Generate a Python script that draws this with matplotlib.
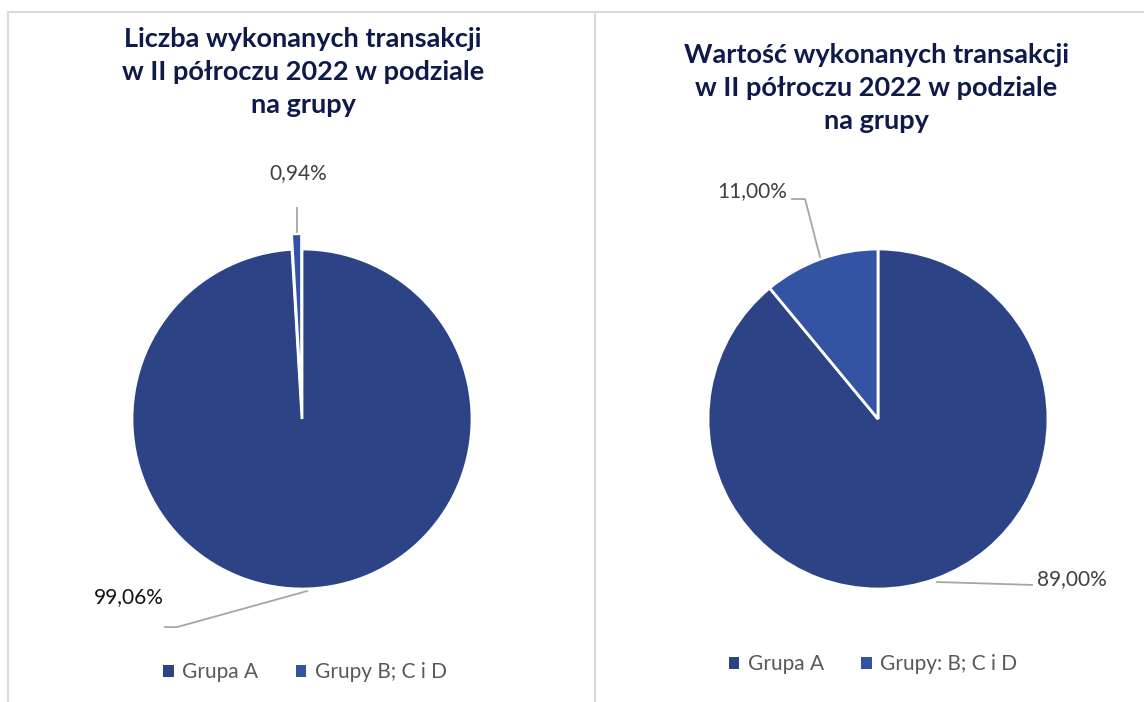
import matplotlib
matplotlib.use("Agg")
import matplotlib.pyplot as plt
from matplotlib.patches import Patch
from matplotlib.lines import Line2D

plt.rcParams['font.family'] = ['Lato', 'DejaVu Sans']

# data
groups_left = ["Grupa A", "Grupy B; C i D"]
count_share = [99.06, 0.94]
groups_right = ["Grupa A", "Grupy: B; C i D"]
value_share = [89.00, 11.00]

title_left = "Liczba wykonanych transakcji\nw II półroczu 2022 w podziale\nna grupy"
title_right = "Wartość wykonanych transakcji\nw II półroczu 2022 w podziale\nna grupy"

col_a = "#2C4386"
col_b = "#3453A2"
title_col = "#0D1A4A"
label_col = "#404040"
leader_col = "#A6A6A6"

W, H = 1144, 702
fig = plt.figure(figsize=(W / 100, H / 100), dpi=100)

# panel frames
frame = Line2D([8 / W, 8 / W, 1.0], [0, 1 - 12 / H, 1 - 12 / H], transform=fig.transFigure,
               color="#D9D9D9", lw=1.5)
fig.add_artist(frame)
fig.add_artist(Line2D([595 / W, 595 / W], [0, 1 - 12 / H], transform=fig.transFigure,
                      color="#D9D9D9", lw=1.5))

R = 170  # pie radius in px
LIM = 1.6
side = 2 * LIM * R


def pie_axes(cx, cy):
    ax = fig.add_axes([(cx - side / 2) / W, (H - cy - side / 2) / H, side / W, side / H])
    ax.set_xlim(-LIM, LIM)
    ax.set_ylim(-LIM, LIM)
    ax.set_aspect("equal")
    ax.axis("off")
    return ax


def fmt(v):
    return ("%.2f%%" % v).replace(".", ",")


# left pie
ax1 = pie_axes(302, 419)
ax1.pie(count_share, colors=[col_a, col_b], startangle=90, counterclock=False,
        explode=[0, 0.09], wedgeprops=dict(edgecolor="white", linewidth=2))
ax1.set_xlim(-LIM, LIM)
ax1.set_ylim(-LIM, LIM)
ax1.plot([-0.029, -0.029], [1.10, 1.24], color=leader_col, lw=1.3)
ax1.text(-0.024, 1.447, fmt(count_share[1]), ha="center", va="center", fontsize=15, color=label_col)
ax1.plot([0.03, -0.735, -0.806], [-1.012, -1.224, -1.224], color=leader_col, lw=1.3)
ax1.text(-1.02, -1.05, fmt(count_share[0]), ha="center", va="center", fontsize=15, color="#111111")

# right pie
ax2 = pie_axes(878, 419)
ax2.pie(value_share, colors=[col_a, col_b], startangle=90, counterclock=False,
        wedgeprops=dict(edgecolor="white", linewidth=2))
ax2.set_xlim(-LIM, LIM)
ax2.set_ylim(-LIM, LIM)
ax2.plot([-0.506, -0.429, -0.341], [1.294, 1.294, 0.953], color=leader_col, lw=1.3)
ax2.text(-0.741, 1.341, fmt(value_share[1]), ha="center", va="center", fontsize=15, color=label_col)
ax2.plot([0.347, 0.906], [-0.959, -0.976], color=leader_col, lw=1.3)
ax2.text(1.141, -0.941, fmt(value_share[0]), ha="center", va="center", fontsize=15, color=label_col)

# titles
fig.text(303 / W, 1 - 72 / H, title_left, ha="center", va="center", fontsize=19.5,
         fontweight="bold", color=title_col, linespacing=1.45)
fig.text(876 / W, 1 - 88 / H, title_right, ha="center", va="center", fontsize=19.5,
         fontweight="bold", color=title_col, linespacing=1.45)

# legends
for labels, cx, cy in [(groups_left, 305, 672), (groups_right, 873, 664)]:
    handles = [Patch(facecolor=col_a), Patch(facecolor=col_b)]
    fig.legend(handles, labels, loc="center", bbox_to_anchor=(cx / W, 1 - cy / H), ncol=2,
               frameon=False, fontsize=15, labelcolor="#595959", handlelength=0.5,
               handleheight=0.5, handletextpad=0.4, columnspacing=1.8)

fig.savefig("out.png", dpi=100, facecolor="white")
